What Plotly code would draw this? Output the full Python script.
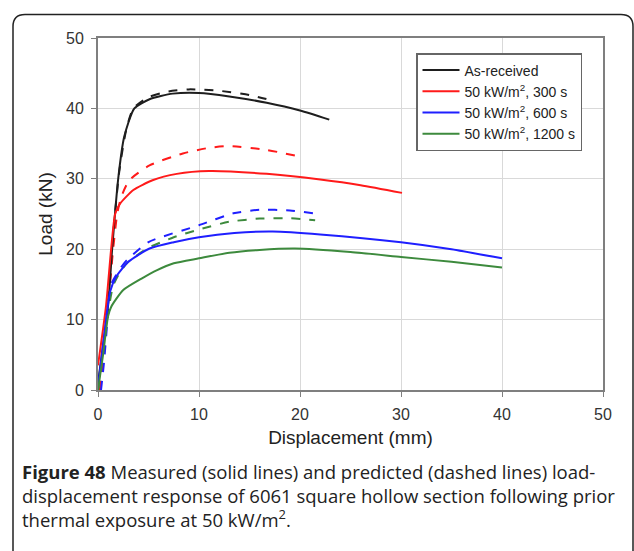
import plotly.graph_objects as go

# Measured (solid) curves: displacement (mm), load (kN)
asrec_x = [0, 1.0, 1.4, 2.0, 2.6, 3.6, 5.1, 7.4, 10, 13, 16.7, 20, 22.9]
asrec_y = [1.0, 12, 20, 30, 36, 40, 41.3, 42.1, 42.2, 41.7, 40.8, 39.7, 38.4]
s300_x = [0, 0.8, 1.3, 1.7, 2.2, 3.5, 5.4, 7.8, 11, 16.7, 22, 26, 30.1]
s300_y = [3.5, 12, 20, 25, 26.5, 28.4, 29.8, 30.7, 31.1, 30.7, 29.9, 29.1, 28.0]
s600_x = [0, 0.8, 1.2, 1.8, 3, 5.1, 7.5, 10, 13.5, 17.3, 22, 30, 35, 40]
s600_y = [0.5, 10, 14, 16.1, 18.2, 20.1, 21.0, 21.7, 22.3, 22.5, 22.1, 21.0, 20.0, 18.7]
s1200_x = [0, 0.5, 1.0, 1.3, 2.5, 4.4, 5.8, 7.5, 10, 13, 16, 19.5, 25, 30, 35, 40]
s1200_y = [0, 5, 10.5, 11.8, 14.2, 15.9, 17, 18, 18.7, 19.5, 19.9, 20.1, 19.6, 18.9, 18.2, 17.4]

# Predicted (dashed) curves
p_asrec_x = [0.2, 1.0, 1.5, 2.1, 2.8, 3.5, 5, 7, 9, 12, 15, 17.3]
p_asrec_y = [0, 12, 22, 31, 37, 40, 41.6, 42.4, 42.7, 42.5, 41.9, 41.1]
p300_x = [0.2, 1.0, 1.5, 1.9, 2.3, 3.1, 5.1, 8.4, 11, 13, 16.7, 19.5]
p300_y = [0, 12, 20, 25, 27.4, 29.8, 31.9, 33.6, 34.4, 34.65, 34.1, 33.3]
p600_x = [0.3, 0.6, 1.0, 1.3, 2.0, 2.7, 5, 10, 13.4, 16, 19, 21.3]
p600_y = [0, 4, 11, 15, 16.8, 18.2, 21.0, 23.4, 25.1, 25.6, 25.5, 25.1]
p1200_x = [0, 1.0, 1.5, 2.2, 3, 5, 7.5, 10, 13, 16, 19, 21.5]
p1200_y = [0, 11, 14.8, 16.8, 18.2, 20.2, 21.7, 22.8, 23.9, 24.35, 24.4, 24.1]

names = ["As-received", "50 kW/m<sup>2</sup>, 300 s",
         "50 kW/m<sup>2</sup>, 600 s", "50 kW/m<sup>2</sup>, 1200 s"]
colors = ["#1e1e1e", "#ff1a1a", "#1f1fff", "#3d8a3d"]
measured = [(asrec_x, asrec_y), (s300_x, s300_y), (s600_x, s600_y), (s1200_x, s1200_y)]
predicted = [(p_asrec_x, p_asrec_y), (p300_x, p300_y), (p600_x, p600_y), (p1200_x, p1200_y)]

fig = go.Figure()
for (x, y), c in zip(predicted, colors):
    fig.add_trace(go.Scatter(x=x, y=y, mode="lines", showlegend=False,
                             line=dict(color=c, width=2, dash="dash", shape="spline", smoothing=0.6)))
for (x, y), c, n in zip(measured, colors, names):
    fig.add_trace(go.Scatter(x=x, y=y, mode="lines", name=n,
                             line=dict(color=c, width=2, shape="spline", smoothing=0.6)))

# plot-area geometry in pixels
W, H = 634, 551
L, R, T, B = 98, 603, 38, 390

def px(x):
    return (x - L) / (R - L)

def py(y):
    return (B - y) / (B - T)

sans = "Liberation Sans, Arial, sans-serif"
axis_font = dict(family=sans, size=16, color="#333333")
title_font = dict(family=sans, size=19, color="#222222")
common = dict(range=[0, 50], dtick=10, showgrid=True, gridcolor="#d9d9d9", gridwidth=1,
              showline=True, linecolor="#7f7f7f", linewidth=2, mirror=True,
              ticks="outside", ticklen=5, tickcolor="#7f7f7f", tickfont=axis_font,
              zeroline=False)
fig.update_xaxes(**common, ticklabelstandoff=4,
                 title=dict(text="Displacement (mm)", font=title_font, standoff=8))
fig.update_yaxes(**common, ticklabelstandoff=4,
                 title=dict(text="Load (kN)", font=title_font, standoff=8))

# rounded outer frame
x0, x1, y0, y1 = px(13), px(633), py(14.5), py(600)
rx = 12 / (R - L)
ry = 12 / (B - T)
frame = (f"M {x0},{y1} L {x0},{y0 - ry} Q {x0},{y0} {x0 + rx},{y0} "
         f"L {x1 - rx},{y0} Q {x1},{y0} {x1},{y0 - ry} L {x1},{y1}")
fig.add_shape(type="path", path=frame, xref="paper", yref="paper",
              line=dict(color="#222222", width=1.5), layer="above")

# caption block below the chart
caption = [
    "<b>Figure 48</b> Measured (solid lines) and predicted (dashed lines) load-",
    "displacement response of 6061 square hollow section following prior",
    "thermal exposure at 50 kW/m<sup>2</sup>.",
]
fig.add_annotation(text="<br>".join(caption), xref="paper", yref="paper",
                   x=px(20), y=py(495), xanchor="left", yanchor="middle", align="left",
                   showarrow=False,
                   font=dict(family="Open Sans, sans-serif", size=18.5, color="#222222"))

fig.update_layout(
    width=W, height=H,
    margin=dict(l=L, r=W - R, t=T, b=H - B),
    paper_bgcolor="white", plot_bgcolor="white",
    legend=dict(x=px(416), y=py(53), xanchor="left", yanchor="top",
                bgcolor="white", bordercolor="#666666", borderwidth=1.5,
                font=dict(family=sans, size=14, color="#222222"),
                tracegroupgap=0, itemwidth=37),
    showlegend=True,
)

fig.write_html("out.html")
